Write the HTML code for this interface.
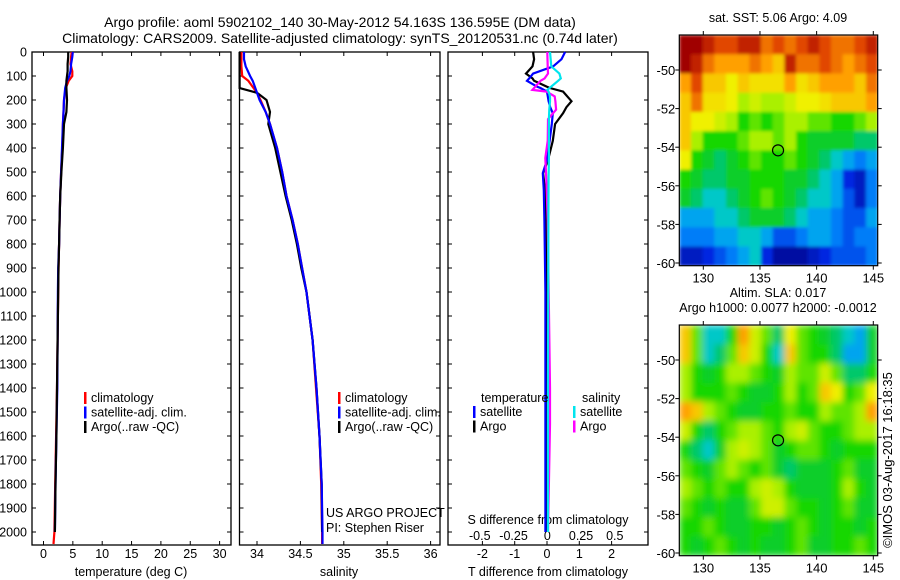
<!DOCTYPE html>
<html><head><meta charset="utf-8"><style>
html,body{margin:0;padding:0;background:#fff;}
svg{display:block;font-family:"Liberation Sans",sans-serif;}
text{fill:#000;}
</style></head><body>
<svg id="chart" width="900" height="580" viewBox="0 0 900 580" xmlns="http://www.w3.org/2000/svg">
<defs>
<filter id="blurSST" filterUnits="userSpaceOnUse" x="679.3" y="35" width="198.4" height="230.7"><feGaussianBlur stdDeviation="1.5" edgeMode="duplicate"/></filter>
<filter id="blurSLA" filterUnits="userSpaceOnUse" x="679.3" y="325" width="198.4" height="230.7"><feGaussianBlur stdDeviation="3.5" edgeMode="duplicate"/></filter>
<clipPath id="clipSST"><rect x="679.3" y="35" width="198.4" height="230.7"/></clipPath>
<clipPath id="clipSLA"><rect x="679.3" y="325" width="198.4" height="230.7"/></clipPath>
</defs>
<text x="340" y="27" font-size="14" text-anchor="middle">Argo profile: aoml 5902102_140 30-May-2012 54.163S 136.595E (DM data)</text>
<text x="340" y="43" font-size="14" text-anchor="middle">Climatology: CARS2009. Satellite-adjusted climatology: synTS_20120531.nc (0.74d later)</text>
<g id="g"></g>
</svg>
<script>
// ---- profile data ----
const tDepth=[0,20,50,80,100,120,150,200,250,300,400,500,600,700,800,900,1000,1200,1400,1600,1800,2000,2050];
const tClim=[4.8,4.7,4.6,4.9,4.9,4.3,3.8,3.5,3.4,3.3,3.2,3.0,2.85,2.75,2.65,2.55,2.5,2.4,2.3,2.15,2.0,1.85,1.7];
const tSat=[5.0,4.9,4.7,4.6,4.4,4.0,3.7,3.5,3.4,3.3,3.15,3.0,2.85,2.75,2.65,2.5,2.45,2.4,2.35,2.2,2.05,1.95];
const tArgo=[4.2,4.2,4.1,4.1,4.0,3.9,3.9,4.0,3.9,3.5,3.3,3.05,2.85,2.75,2.65,2.55,2.5,2.4,2.3,2.2,2.05,1.95];
const sDepth=[0,30,60,100,120,150,170,200,250,300,400,500,600,700,800,900,1000,1200,1400,1600,1800,2000,2050];
const sClim=[33.82,33.82,33.82,33.83,33.9,33.96,34.0,34.04,34.1,34.15,34.23,34.29,34.34,34.41,34.47,34.52,34.57,34.64,34.68,34.72,34.74,34.75,34.75];
const sSat=[33.85,33.85,33.87,33.92,33.95,33.98,34.0,34.03,34.1,34.15,34.23,34.29,34.34,34.41,34.47,34.52,34.57,34.64,34.685,34.72,34.745,34.755,34.755];
const sArgo=[33.8,33.8,33.8,33.8,33.8,33.8,34.0,34.11,34.15,34.13,34.21,34.27,34.33,34.4,34.46,34.51,34.57,34.64,34.685,34.72,34.745,34.75];
const dTDepth=[0,30,60,90,110,120,145,150,165,205,230,255,300,370,450,505,575,700,1000,1500,2000];
const dTArgo=[-0.43,-0.4,-0.45,-0.65,-0.45,-0.4,0.0,0.09,0.5,0.76,0.6,0.5,0.25,0.18,0.03,-0.12,-0.06,-0.02,0,0,0];
const dTSat=[0.56,0.45,0.19,-0.43,-0.55,-0.62,-0.3,-0.2,0.0,0.05,0.1,0.18,0.15,0.08,0.0,-0.13,-0.1,-0.08,-0.05,-0.05,-0.05];
const dSDepth=[0,60,90,110,120,158,165,185,206,240,280,370,442,520,700,1400,1550,2000];
const dSArgo=[0,0.003,0.005,-0.02,-0.05,-0.11,-0.005,0.055,0.06,0.065,0.005,0.003,-0.015,-0.008,0.003,0.02,0.02,0.005];
const dSSat=[0.02,0.03,0.09,0.1,0.08,0.0,0.01,0.02,0.02,0.015,0.012,0.012,0.012,0.01,0.008,0.005,0.005,0.005];
const depthTicks=[0,100,200,300,400,500,600,700,800,900,1000,1100,1200,1300,1400,1500,1600,1700,1800,1900,2000];
const tempTicks=[0,5,10,15,20,25,30];
const salTicks=[34,34.5,35,35.5,36];
const salTickLabels=["34","34.5","35","35.5","36"];
const dTTicks=[-2,-1,0,1,2];
const dSTicks=[-0.5,-0.25,0,0.25,0.5];
const dSTickLabels=["-0.5","-0.25","0","0.25","0.5"];
// ---- map data (values 0..1 on jet-like scale), rows north->south, cols west->east ----
const sstGrid=[
[1,1,.95,.9,.9,.95,.95,.85,.9,.85,.9,.95,.9,.85,.85,.9,.95],
[1,.95,.85,.8,.8,.8,.85,.8,.75,.95,.85,.85,.9,.85,.8,.85,.9],
[.8,.9,.75,.75,.7,.75,.72,.72,.72,.8,.72,.75,.8,.8,.8,.75,.85],
[.75,.85,.72,.72,.7,.6,.65,.6,.6,.65,.7,.7,.72,.75,.75,.75,.8],
[.75,.7,.7,.65,.6,.5,.55,.5,.55,.6,.6,.55,.55,.5,.5,.55,.6],
[.75,.6,.5,.5,.5,.55,.6,.6,.55,.6,.5,.45,.45,.45,.45,.4,.4],
[.7,.5,.45,.4,.45,.5,.55,.5,.5,.55,.5,.45,.4,.35,.3,.25,.3],
[.5,.45,.4,.4,.45,.45,.5,.5,.5,.45,.45,.4,.35,.3,.15,.1,.25],
[.45,.4,.35,.35,.4,.45,.5,.55,.5,.45,.4,.35,.35,.3,.2,.1,.25],
[.3,.3,.3,.35,.35,.4,.45,.45,.45,.4,.35,.3,.3,.25,.2,.2,.3],
[.25,.25,.25,.3,.3,.35,.35,.3,.2,.2,.25,.3,.3,.25,.2,.25,.25],
[.1,.1,.15,.2,.25,.3,.35,.15,.05,.05,.05,.1,.15,.2,.2,.2,.25]];
const slaGrid=[
[.75,.55,.35,.35,.5,.8,.65,.55,.4,.7,.55,.5,.45,.4,.35,.3,.45],
[.75,.55,.35,.4,.55,.75,.65,.5,.35,.75,.55,.5,.5,.4,.3,.3,.45],
[.6,.5,.45,.5,.6,.6,.55,.5,.45,.6,.55,.55,.65,.55,.4,.4,.5],
[.6,.5,.5,.5,.55,.5,.45,.45,.5,.6,.5,.55,.75,.7,.5,.55,.7],
[.8,.75,.6,.55,.5,.45,.45,.5,.5,.55,.5,.5,.6,.55,.55,.6,.8],
[.65,.5,.4,.5,.55,.6,.6,.55,.5,.6,.65,.55,.5,.5,.55,.6,.6],
[.5,.4,.35,.45,.6,.65,.6,.55,.45,.5,.55,.55,.5,.45,.5,.5,.5],
[.55,.5,.45,.55,.6,.55,.5,.55,.45,.4,.45,.45,.45,.5,.55,.45,.45],
[.6,.55,.5,.55,.5,.5,.6,.65,.6,.5,.45,.45,.45,.5,.6,.5,.45],
[.55,.5,.45,.5,.45,.45,.55,.65,.65,.55,.5,.5,.45,.5,.55,.45,.45],
[.5,.5,.55,.5,.45,.45,.5,.5,.45,.5,.55,.5,.45,.5,.5,.45,.5],
[.5,.45,.5,.55,.5,.45,.5,.45,.45,.5,.55,.45,.45,.5,.5,.55,.5]];
const lonTicks=[130,135,140,145];
const latTicks=[-50,-52,-54,-56,-58,-60];
const floatLon=136.595, floatLat=-54.163;

const NS="http://www.w3.org/2000/svg";
const G=document.getElementById('g');
function mk(tag,attrs,parent){const e=document.createElementNS(NS,tag);for(const k in attrs)e.setAttribute(k,attrs[k]);(parent||G).appendChild(e);return e;}
function txt(s,x,y,anchor,size,name){const t=mk('text',{x:x,y:y,'font-size':size||12.5,'text-anchor':anchor||'middle'});t.textContent=s;


return t;}

const TOP=52,BOT=545;
const yD=d=>TOP+d*0.24;
const xT=v=>43.5+v*5.87;
const xS=v=>257+(v-34)*86.8;
const xDT=v=>547+v*32.3;
const xDS=v=>547.3+v*135;

function frame(x0,x1,name,xticks,xf,ylabels){
  const r=mk('rect',{x:x0,y:TOP,width:x1-x0,height:BOT-TOP,fill:'none',stroke:'#000','stroke-width':1.3});
  
  
  depthTicks.forEach(d=>{
    const y=yD(d);
    const a=mk('line',{x1:x0,x2:x0+4,y1:y,y2:y,stroke:'#000'});
    
    
    const b=mk('line',{x1:x1-4,x2:x1,y1:y,y2:y,stroke:'#000'});
    
    
    if(ylabels) txt(String(d),x0-5,y+4.5,'end',12.5,'depth-tick-label');
  });
  xticks.forEach(v=>{
    const x=xf(v);
    const a=mk('line',{x1:x,x2:x,y1:TOP,y2:TOP+4,stroke:'#000'});
    
    
    const b=mk('line',{x1:x,x2:x,y1:BOT-4,y2:BOT,stroke:'#000'});
    
    
  });
}
function line(xs,ds,xf,color,name){
  const n=Math.min(xs.length,ds.length);
  let pts=[];
  for(let i=0;i<n;i++)pts.push(xf(xs[i]).toFixed(1)+','+yD(ds[i]).toFixed(1));
  const p=mk('polyline',{points:pts.join(' '),fill:'none',stroke:color,'stroke-width':2.2,'stroke-linejoin':'miter'});
  
  
}
function legend(x,y,items,name){
  items.forEach((it,i)=>{
    const r=mk('rect',{x:x,y:y+i*14.5-10,width:2.5,height:12,fill:it[1]});
    
    
    txt(it[0],x+7,y+i*14.5,'start',12.5,name+'-label');
  });
}

// Panel 1 temperature
frame(32,231,'temperature-panel',tempTicks,xT,true);
tempTicks.forEach(v=>txt(String(v),xT(v),558,'middle',12.5,'temperature-tick-label'));
txt('temperature (deg C)',131,576,'middle',12.5,'temperature-axis-title');
line(tClim,tDepth,xT,'#ff0000','temp-climatology-line');
line(tSat,tDepth,xT,'#0000ff','temp-satellite-line');
line(tArgo,tDepth,xT,'#000000','temp-argo-line');
legend(84,402,[['climatology','#ff0000'],['satellite-adj. clim.','#0000ff'],['Argo(..raw -QC)','#000000']],'temp-legend');

// Panel 2 salinity
frame(239.5,440,'salinity-panel',salTicks,xS,false);
salTicks.forEach((v,i)=>txt(salTickLabels[i],xS(v),558,'middle',12.5,'salinity-tick-label'));
txt('salinity',339,576,'middle',12.5,'salinity-axis-title');
line(sClim,sDepth,xS,'#ff0000','sal-climatology-line');
line(sArgo,sDepth,xS,'#000000','sal-argo-line');
line(sSat,sDepth,xS,'#0000ff','sal-satellite-line');
legend(338,402,[['climatology','#ff0000'],['satellite-adj. clim.','#0000ff'],['Argo(..raw -QC)','#000000']],'sal-legend');
txt('US ARGO PROJECT',326,517,'start',12.5,'project-label');
txt('PI: Stephen Riser',326,532,'start',12.5,'pi-label');

// Panel 3 difference
frame(448,648,'difference-panel',dTTicks,xDT,false);
dTTicks.forEach(v=>txt(String(v),xDT(v),558,'middle',12.5,'t-diff-tick-label'));
dSTicks.forEach((v,i)=>txt(dSTickLabels[i],xDS(v),540,'middle',12.5,'s-diff-tick-label'));
txt('S difference from climatology',548,524,'middle',12.5,'s-diff-axis-title');
txt('T difference from climatology',548,576,'middle',12.5,'t-diff-axis-title');
line(dTArgo,dTDepth,xDT,'#000000','t-diff-argo-line');
line(dTSat,dTDepth,xDT,'#0000ff','t-diff-satellite-line');
line(dSArgo,dSDepth,xDS,'#ff00ff','s-diff-argo-line');
line(dSSat,dSDepth,xDS,'#00e5ee','s-diff-satellite-line');
txt('temperature',481,402,'start',12.5,'diff-legend-temperature-header');
txt('salinity',582,402,'start',12.5,'diff-legend-salinity-header');
legend(473,416,[['satellite','#0000ff'],['Argo','#000000']],'t-diff-legend');
legend(573,416,[['satellite','#00e5ee'],['Argo','#ff00ff']],'s-diff-legend');

// ---- maps ----
const stops=[[0,[0,0,130]],[0.15,[0,40,225]],[0.28,[0,150,255]],[0.35,[0,200,200]],[0.42,[0,200,70]],[0.5,[20,215,0]],[0.6,[170,240,0]],[0.7,[240,240,0]],[0.8,[255,160,0]],[0.9,[225,70,0]],[1,[160,0,0]]];
function cmap(v){v=Math.max(0,Math.min(1,v));for(let i=1;i<stops.length;i++){if(v<=stops[i][0]){const a=stops[i-1],b=stops[i],t=(v-a[0])/(b[0]-a[0]);const c=a[1].map((q,k)=>Math.round(q+(b[1][k]-q)*t));return 'rgb('+c.join(',')+')';}}return 'rgb(160,0,0)';}
const MX0=679.3,MX1=877.7;
const xLon=l=>703.3+(l-130)*11.333;
function map(grid,y0,y1,lat50y,name,title1,title2,filt,clip){
  const yLat=l=>lat50y+(-50-l)*19.3;
  const rows=grid.length,cols=grid[0].length;
  const cw=(MX1-MX0)/cols,ch=(y1-y0)/rows;
  const outer=mk('g',{'clip-path':'url(#'+clip+')'});
  
  
  const cg=mk('g',{filter:'url(#'+filt+')'},outer);
  grid.forEach((row,r)=>row.forEach((v,c)=>{
    const e=mk('rect',{x:(MX0+c*cw).toFixed(2),y:(y0+r*ch).toFixed(2),width:(cw+0.6).toFixed(2),height:(ch+0.6).toFixed(2),fill:cmap(v)},cg);
    
    
  }));
  const f=mk('rect',{x:MX0,y:y0,width:MX1-MX0,height:y1-y0,fill:'none',stroke:'#000','stroke-width':1.2});
  
  
  lonTicks.forEach(l=>{
    const x=xLon(l);
    const a=mk('line',{x1:x,x2:x,y1:y0-4,y2:y0,stroke:'#000'});
    
    
    const b=mk('line',{x1:x,x2:x,y1:y1,y2:y1+4,stroke:'#000'});
    
    
    txt(String(l),x,y1+17,'middle',13,name+'-lon-label');
  });
  latTicks.forEach(l=>{
    const y=yLat(l);
    const a=mk('line',{x1:MX0-4,x2:MX0,y1:y,y2:y,stroke:'#000'});
    
    
    const b=mk('line',{x1:MX1,x2:MX1+4,y1:y,y2:y,stroke:'#000'});
    
    
    txt(String(l),MX0-4,y+5,'end',13,name+'-lat-label');
  });
  const c=mk('circle',{cx:xLon(floatLon),cy:yLat(floatLat),r:5.5,fill:'none',stroke:'#000','stroke-width':1.2});
  
  
  if(title2){txt(title1,778,y0-28,'middle',12.5,name+'-title');txt(title2,778,y0-13,'middle',12.5,name+'-subtitle');}
  else txt(title1,778,y0-13,'middle',12.5,name+'-title');
}
map(sstGrid,35,265.7,70,'sst-map','sat. SST: 5.06 Argo: 4.09',null,'blurSST','clipSST');
map(slaGrid,325,555.7,360,'sla-map','Altim. SLA: 0.017','Argo h1000: 0.0077 h2000: -0.0012','blurSLA','clipSLA');
const cr=txt('©IMOS 03-Aug-2017 16:18:35',0,0,'middle',13,'copyright-timestamp');
cr.setAttribute('transform','translate(892,460) rotate(-90)');
</script>
</body></html>
